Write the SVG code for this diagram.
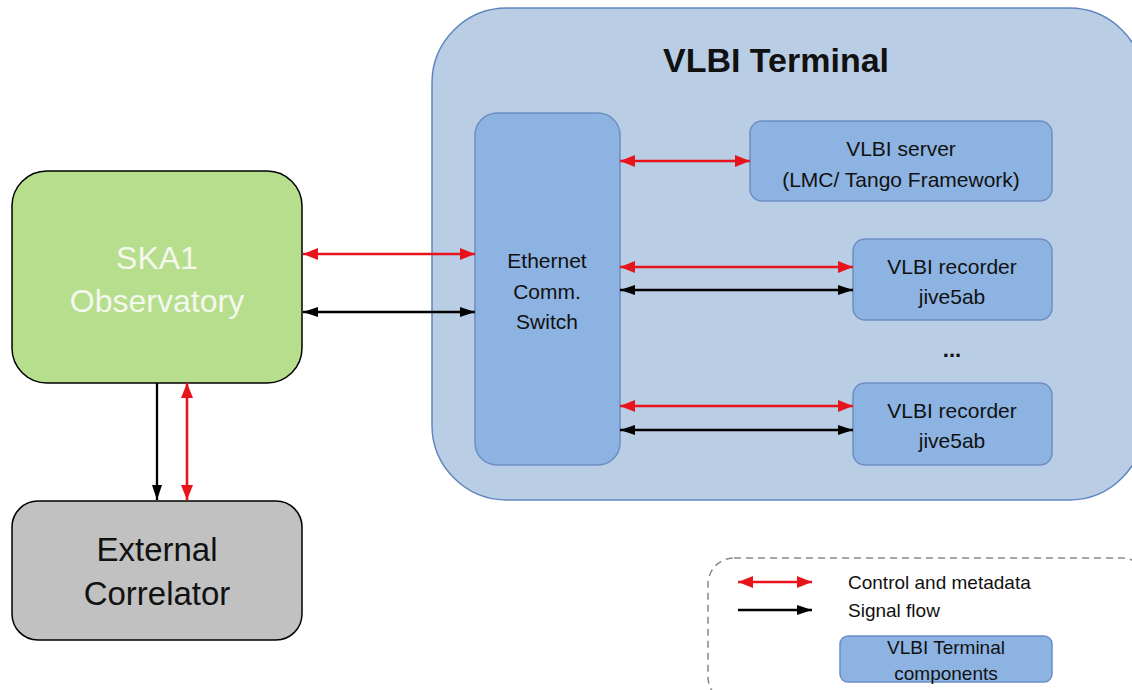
<svg xmlns="http://www.w3.org/2000/svg" width="1132" height="690" viewBox="0 0 1132 690">
<style>
text{font-family:"Liberation Sans",Arial,sans-serif;text-anchor:middle;fill:#111}
.comp{fill:#8db3e2;stroke:#6c8fc4;stroke-width:1.5}
.red{stroke:#e8141c;stroke-width:2.6;fill:none}
.blk{stroke:#000;stroke-width:2.3;fill:none}
.t21{font-size:21px}
.t19{font-size:19px}
.t33{font-size:33px}
</style>
<defs>
<marker id="ar" markerUnits="userSpaceOnUse" markerWidth="16" markerHeight="12" refX="15" refY="6" orient="auto-start-reverse"><path d="M0,0 L15,6 L0,12 z" fill="#e8141c"/></marker>
<marker id="ab" markerUnits="userSpaceOnUse" markerWidth="16" markerHeight="12" refX="15" refY="6" orient="auto-start-reverse"><path d="M0,1 L15,6 L0,11 z" fill="#000"/></marker>
</defs>
<rect width="1132" height="690" fill="#fff"/>
<g id="vlbi-terminal">
<rect x="432" y="8" width="712" height="492" rx="75" fill="#b9cde5" stroke="#5f86c0" stroke-width="1.5"/>
<text x="776" y="72" style="font-size:34px;font-weight:bold">VLBI Terminal</text>
</g>
<g id="switch">
<rect class="comp" x="475" y="113" width="145" height="352" rx="22"/>
<text class="t21" x="547" y="268">Ethernet</text>
<text class="t21" x="547" y="299">Comm.</text>
<text class="t21" x="547" y="329">Switch</text>
</g>
<g id="server">
<rect class="comp" x="750" y="121" width="302" height="80" rx="12"/>
<text class="t21" x="901" y="156">VLBI server</text>
<text class="t21" x="901" y="187">(LMC/ Tango Framework)</text>
</g>
<g id="recorder1">
<rect class="comp" x="853" y="239" width="199" height="81" rx="12"/>
<text class="t21" x="952" y="274">VLBI recorder</text>
<text class="t21" x="952" y="304">jive5ab</text>
</g>
<text x="952" y="357" style="font-size:22px;font-weight:bold">...</text>
<g id="recorder2">
<rect class="comp" x="853" y="383" width="199" height="82" rx="12"/>
<text class="t21" x="952" y="418">VLBI recorder</text>
<text class="t21" x="952" y="448">jive5ab</text>
</g>
<g id="ska1">
<rect x="12" y="171" width="290" height="212" rx="35" fill="#b6de8c" stroke="#000" stroke-width="1.5"/>
<text x="157" y="269" style="font-size:32px;fill:#f4f8ee">SKA1</text>
<text x="157" y="312" style="font-size:32px;fill:#f4f8ee">Observatory</text>
</g>
<g id="correlator">
<rect x="12" y="501" width="290" height="139" rx="26" fill="#c1c1c1" stroke="#000" stroke-width="1.5"/>
<text class="t33" x="157" y="561">External</text>
<text class="t33" x="157" y="605">Correlator</text>
</g>
<g id="connectors">
<line class="red" x1="303" y1="254" x2="475" y2="254" marker-start="url(#ar)" marker-end="url(#ar)"/>
<line class="blk" x1="303" y1="312" x2="475" y2="312" marker-start="url(#ab)" marker-end="url(#ab)"/>
<line class="blk" x1="157" y1="383" x2="157" y2="500" marker-end="url(#ab)"/>
<line class="red" x1="187" y1="383" x2="187" y2="500" marker-start="url(#ar)" marker-end="url(#ar)"/>
<line class="red" x1="620" y1="161" x2="750" y2="161" marker-start="url(#ar)" marker-end="url(#ar)"/>
<line class="red" x1="620" y1="267" x2="853" y2="267" marker-start="url(#ar)" marker-end="url(#ar)"/>
<line class="blk" x1="620" y1="290" x2="853" y2="290" marker-start="url(#ab)" marker-end="url(#ab)"/>
<line class="red" x1="620" y1="406" x2="853" y2="406" marker-start="url(#ar)" marker-end="url(#ar)"/>
<line class="blk" x1="620" y1="430" x2="853" y2="430" marker-start="url(#ab)" marker-end="url(#ab)"/>
</g>
<g id="legend">
<rect x="708" y="558" width="440" height="145" rx="26" fill="none" stroke="#888" stroke-width="1.5" stroke-dasharray="7,5"/>
<line class="red" x1="738" y1="582" x2="812" y2="582" marker-start="url(#ar)" marker-end="url(#ar)"/>
<line class="blk" x1="738" y1="610" x2="812" y2="610" marker-end="url(#ab)"/>
<text class="t19" x="848" y="589" style="text-anchor:start">Control and metadata</text>
<text class="t19" x="848" y="617" style="text-anchor:start">Signal flow</text>
<rect class="comp" x="840" y="636" width="212" height="46" rx="8"/>
<text class="t19" x="946" y="654">VLBI Terminal</text>
<text class="t19" x="946" y="680">components</text>
</g>
</svg>
